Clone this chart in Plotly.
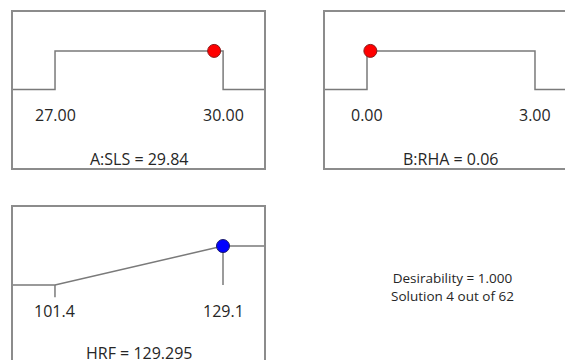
import plotly.graph_objects as go

# ---- data ----
sls_x = [26.25, 27.0, 27.0, 30.0, 30.0, 30.73]
sls_d = [0, 0, 1, 1, 0, 0]
sls_val = 29.84
sls_ticks = [27.0, 30.0]
sls_ticklabels = ["27.00", "30.00"]
sls_title = "A:SLS = 29.84"

rha_x = [-0.75, 0.0, 0.0, 3.0, 3.0, 3.6]
rha_d = [0, 0, 1, 1, 0, 0]
rha_val = 0.06
rha_ticks = [0.0, 3.0]
rha_ticklabels = ["0.00", "3.00"]
rha_title = "B:RHA = 0.06"

hrf_x = [94.48, 101.4, 129.1, 135.86]
hrf_d = [0, 0, 1, 1]
hrf_val = 129.295
hrf_ticks = [101.4, 129.1]
hrf_ticklabels = ["101.4", "129.1"]
hrf_title = "HRF = 129.295"

summary = ["Desirability = 1.000", "Solution 4 out of 62"]

LINE = "#7a7a7a"
BOX = "#8c8c8c"
TXT = "#262626"
FONT = "Open Sans, Noto Sans, sans-serif"

fig = go.Figure()

# panel 1
fig.add_trace(go.Scatter(x=sls_x, y=sls_d, mode="lines", line=dict(color=LINE, width=1.5),
                         xaxis="x", yaxis="y", hoverinfo="skip"))
fig.add_trace(go.Scatter(x=[sls_val], y=[1], mode="markers",
                         marker=dict(color="#ff0000", size=13, line=dict(color="#8a1a1a", width=1)),
                         xaxis="x", yaxis="y"))
# panel 2
fig.add_trace(go.Scatter(x=rha_x, y=rha_d, mode="lines", line=dict(color=LINE, width=1.5),
                         xaxis="x2", yaxis="y2", hoverinfo="skip"))
fig.add_trace(go.Scatter(x=[rha_val], y=[1], mode="markers",
                         marker=dict(color="#ff0000", size=13, line=dict(color="#8a1a1a", width=1)),
                         xaxis="x2", yaxis="y2"))
# panel 3
fig.add_trace(go.Scatter(x=hrf_x, y=hrf_d, mode="lines", line=dict(color=LINE, width=1.5),
                         xaxis="x3", yaxis="y3", hoverinfo="skip"))
fig.add_trace(go.Scatter(x=[hrf_ticks[0], hrf_ticks[0]], y=[0, -0.31], mode="lines",
                         line=dict(color=LINE, width=1.5), xaxis="x3", yaxis="y3", hoverinfo="skip"))
fig.add_trace(go.Scatter(x=[hrf_ticks[1], hrf_ticks[1]], y=[1, 0], mode="lines",
                         line=dict(color=LINE, width=1.5), xaxis="x3", yaxis="y3", hoverinfo="skip"))
fig.add_trace(go.Scatter(x=[hrf_ticks[1]], y=[1], mode="markers",
                         marker=dict(color="#0000ff", size=13, line=dict(color="#1a1a6a", width=1)),
                         xaxis="x3", yaxis="y3"))

W, H = 565, 360
def px(v):
    return v / W
def py(v):
    return 1 - v / H

ax_common = dict(showgrid=False, zeroline=False, showticklabels=False, ticks="",
                 linecolor=BOX, linewidth=1.5, fixedrange=True)

fig.update_layout(
    width=W, height=H, margin=dict(l=0, r=0, t=0, b=0),
    paper_bgcolor="white", plot_bgcolor="white", showlegend=False,
    font=dict(family=FONT, color=TXT, size=16),
    xaxis=dict(domain=[px(13), px(264)], range=[26.25, 30.73], anchor="y",
               showline=True, mirror=True, **ax_common),
    yaxis=dict(domain=[py(168), py(12)], range=[-2.04, 2.01], anchor="x",
               showline=True, mirror=True, **ax_common),
    xaxis2=dict(domain=[px(325), 1.0], range=[-0.75, 3.536], anchor="y2",
                showline=True, mirror=True, **ax_common),
    yaxis2=dict(domain=[py(168), py(12)], range=[-2.04, 2.01], anchor="x2",
                showline=True, mirror=False, **ax_common),
    xaxis3=dict(domain=[px(13), px(264)], range=[94.48, 135.86], anchor="y3", side="top",
                showline=True, mirror=False, **ax_common),
    yaxis3=dict(domain=[0, py(207)], range=[-1.92, 2.0], anchor="x3",
                showline=True, mirror=True, **ax_common),
)

ann = []
for xr, yr, ticks, labels, lab_y in [("x", "y", sls_ticks, sls_ticklabels, -0.66),
                                     ("x2", "y2", rha_ticks, rha_ticklabels, -0.66),
                                     ("x3", "y3", hrf_ticks, hrf_ticklabels, -0.67)]:
    for t, l in zip(ticks, labels):
        ann.append(dict(x=t, y=lab_y, xref=xr, yref=yr, text=l, showarrow=False,
                        font=dict(size=16, color=TXT), xanchor="center", yanchor="middle"))

ann.append(dict(x=0.5, y=-1.8, xref="x domain", yref="y", text=sls_title, showarrow=False,
                font=dict(size=16, color=TXT), xanchor="center", yanchor="middle"))
ann.append(dict(x=(450 - 325) / (565 - 325), y=-1.8, xref="x2 domain", yref="y2", text=rha_title,
                showarrow=False, font=dict(size=16, color=TXT), xanchor="center", yanchor="middle"))
ann.append(dict(x=0.5, y=-1.74, xref="x3 domain", yref="y3", text=hrf_title, showarrow=False,
                font=dict(size=16, color=TXT), xanchor="center", yanchor="middle"))
ann.append(dict(x=px(452), y=py(287), xref="paper", yref="paper",
                text="<br>".join(summary), showarrow=False, align="center",
                font=dict(size=13.5, color=TXT), xanchor="center", yanchor="middle"))
fig.update_layout(annotations=ann)

fig.write_html("out.html", config={"displayModeBar": False})
